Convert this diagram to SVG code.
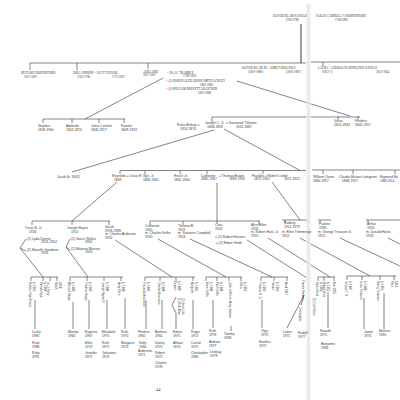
<svg xmlns="http://www.w3.org/2000/svg" width="400" height="400" viewBox="0 0 400 400">
<defs><style>
.cap{font-family:"Liberation Serif",serif;font-size:3px;fill:#333}
.t{font-family:"Liberation Sans",Arial,sans-serif;font-size:3.3px;fill:#3a3a3a}
.r{font-family:"Liberation Sans",Arial,sans-serif;font-size:2.8px;fill:#444}
.p{font-family:"Liberation Serif",serif;font-size:4.5px;fill:#333}
.c{stroke:#333;stroke-width:0.6;fill:none}
.cb{stroke:#222;stroke-width:0.9;fill:none}
</style></defs>
<rect width="400" height="400" fill="#fff"/>
<g id="connectors">
<path class="cb" d="M301 24V63"/>
<path class="c" d="M30 63H306 M311 62H400 M30 63V70 M77 63V70 M148 63V69 M323 62V66"/>
<path class="c" d="M163 78L85 119 M237 81L350 116"/>
<path class="c" d="M43 119H125 M43 119V123 M72 119V123 M99 119V123 M124 119V123"/>
<path class="c" d="M212 117H360 M212 117V122 M338 116V120 M358 116V120"/>
<path class="c" d="M214 130L72 172 M224 129L300 170.5"/>
<path class="c" d="M120 170.5H306 M120 170.5V174 M145 170.5V174 M180 170.5V174 M207 170.5V174 M263 170.5V174"/>
<path class="c" d="M312 170H400 M323 170V174 M353 170V174 M395 170V174"/>
<path class="c" d="M117 182L72 221 M32 221H110 M32 221V225 M72 221V225 M109 221V225"/>
<path class="c" d="M217 183V221 M150 221H260 M150 221V225 M183 221V225 M217 221V224 M259 221V225"/>
<path class="c" d="M272 182L300 220 M282 220H308 M285 220V223 M307 220V223"/>
<path class="c" d="M318 220H331 M320 220V223 M366 220H400 M368 220V223"/>
<path class="c" d="M26 239L20 248L26 251 M70 239L66 247L70 250"/>
<path class="c" d="M20 248L43 277 M66 247L88 277 M115 240L172 277 M158 239L226 277 M190 239L272 277 M247 240L307 278 M268 238L330 277 M300 238L370 276 M340 238L400 266 M388 238L400 244"/>
<path class="c" d="M31 277H58 M31 277V281 M43 277V281 M50 277V281 M57 277V281"/>
<path class="c" d="M70 277H123 M70 277V281 M87 277V281 M104 277V281 M121 277V281"/>
<path class="c" d="M145 277H195 M145 277V281 M160 277V281 M176 277V281 M193 277V281"/>
<path class="c" d="M206 277H242 M206 277V281 M217 277V281 M229 277V281 M241 277V281"/>
<path class="c" d="M261 277H288 M261 277V281 M274 277V281 M287 277V281"/>
<path class="c" d="M318 277H335 M318 277V281 M324 277V281 M334 277V281"/>
<path class="c" d="M347 276H396 M347 276V280 M362 276V280 M380 276V280 M394 276V280"/>
<path class="c" d="M35 300V329 M73 302V329 M89 300V329 M107 300V329 M125 298V329 M146 300V329 M162 300V329 M176 297L172 305L176 313V329 M193 300V329 M213 300V328 M231 326V331 M262 300V328 M304 295L287 328 M304 295L301 305 M328 292V328 M364 298V329 M384 293V329"/>
</g>
<g id="gutter" opacity="0.75"><rect x="306" y="4" width="5" height="396" fill="#efefef"/><line x1="308.5" y1="4" x2="308.5" y2="400" stroke="#dadada" stroke-width="1.2"/></g>

<g id="n-oliver-sr"><text class="cap" x="290" y="17" text-anchor="middle">OLIVER BLAIR-SAVILLE</text><text class="cap" x="292" y="21" text-anchor="middle">1700-1788</text></g>
<g id="n-sarah-carroll"><text class="cap" x="316" y="17">SARAH CARROLL (?) HORTONFORD</text><text class="cap" x="335" y="21">1706-1801</text></g>
<g id="n-richard"><text class="cap" x="21" y="74">RICHARD HORTONFORD</text><text class="cap" x="24" y="77.5">1657-1697</text></g>
<g id="n-joel"><text class="cap" x="73" y="74">JOEL ANDREW = LUCY TAYLOR</text><text class="cap" x="77" y="77.5">1763-1796</text><text class="cap" x="112" y="77.5">1773-1827</text></g>
<g id="n-adelaide-sr"><text class="cap" x="143" y="72.5">ADELAIDE</text><text class="cap" x="143" y="76">1817-1837</text></g>
<g id="n-isaac"><text class="cap" x="167" y="73.5">= ISAAC TRAMBLE</text><text class="cap" x="183" y="77">1798-1850</text></g>
<g id="n-joseph-a"><text class="cap" x="166" y="82">= (2) JOSEPH ALEXANDER SMITH ACKLEY</text><text class="cap" x="200" y="85.5">1801-1883</text></g>
<g id="n-william"><text class="cap" x="166" y="90">= (3) WILLIAM BREVETT GRANTSON</text><text class="cap" x="198" y="93.5">1810-1880</text></g>
<g id="n-oliver-jr"><text class="cap" x="242" y="69">OLIVER BLAIR JR. = EMILY HOLLINGS</text><text class="cap" x="248" y="72.5">(1810-1880)</text><text class="cap" x="286" y="72.5">(1816-1887)</text></g>
<g id="n-laura"><text class="cap" x="318" y="69">LAURA = GEORGE WASHINGTON SAVILLE</text><text class="cap" x="322" y="72.5">(1812-?)</text><text class="cap" x="376" y="72.5">1812-1864</text></g>

<g id="n-stephen"><text class="t" x="38" y="127">Stephen</text><text class="t" x="38" y="130.5">1839-1900</text></g>
<g id="n-adelaide"><text class="t" x="66" y="127">Adelaide</text><text class="t" x="66" y="130.5">1843-1876</text></g>
<g id="n-julius"><text class="t" x="91" y="127">Julius Carsten</text><text class="t" x="91" y="130.5">1846-1917</text></g>
<g id="n-frankie"><text class="t" x="121" y="127">Frankie</text><text class="t" x="121" y="130.5">1849-1933</text></g>
<g id="n-rufus"><text class="t" x="177" y="126">Rufus Bishop =</text><text class="t" x="180" y="129.5">1814-1876</text></g>
<g id="n-joseph-c"><text class="t" x="205" y="124">Joseph C. Jr.</text><text class="t" x="207" y="127.5">1808-1858</text></g>
<g id="n-susannah"><text class="t" x="226" y="124">= Susannah Tillotson</text><text class="t" x="236" y="127.5">1811-1882</text></g>
<g id="n-gaius"><text class="t" x="334" y="122">Gaius</text><text class="t" x="334" y="125.5">1813-1833</text></g>
<g id="n-frederic"><text class="t" x="355" y="122">Frederic</text><text class="t" x="355" y="125.5">1845-1917</text></g>

<g id="n-jacob"><text class="t" x="57" y="177.5">Jacob (b. 1847)</text></g>
<g id="n-reynolds"><text class="t" x="112" y="177">Reynolds = Oscar E. Nye, Jr.</text><text class="t" x="114" y="180.5">1863</text><text class="t" x="143" y="180.5">1866-1941</text></g>
<g id="n-enoch"><text class="t" x="174" y="177">Enoch Jr.</text><text class="t" x="174" y="180.5">1862-1940</text></g>
<g id="n-catherine-sr"><text class="t" x="201" y="176.5">Catherine</text><text class="t" x="201" y="180">1865-1937</text></g>
<g id="n-thomas-brown"><text class="t" x="219" y="176.5">= Thomas Brown</text><text class="t" x="229" y="180">1869-1933</text></g>
<g id="n-franklin"><text class="t" x="252" y="176.5">Franklin = Robert Lunde</text><text class="t" x="254" y="180">1872-1942</text><text class="t" x="284" y="180">1872-1922</text></g>
<g id="n-william-chase"><text class="t" x="313" y="178">William Chase</text><text class="t" x="313" y="181.5">1880-1957</text></g>
<g id="n-claudia"><text class="t" x="339" y="178">Claudia Mason Livingston</text><text class="t" x="342" y="181.5">1868-1957</text></g>
<g id="n-raymond"><text class="t" x="380" y="178" style="font-size:3px">Raymond Mo</text><text class="t" x="380" y="181.5" style="font-size:3px">1868-1914</text></g>

<g id="n-oscar"><text class="t" x="25" y="229">Oscar E. Jr.</text><text class="t" x="29" y="232.5">1926</text><text class="t" x="27" y="239.5">(1) Lydia Dennis</text><text class="t" x="41" y="243">1926-1954</text><text class="t" x="27" y="250.5">(2) Mozelle Goodman</text><text class="t" x="41" y="254">1926</text></g>
<g id="n-joseph-hayes"><text class="t" x="67" y="229">Joseph Hayes</text><text class="t" x="71" y="232.5">1921</text><text class="t" x="71" y="239.5">(1) Vance Walker</text><text class="t" x="85" y="243">1962</text><text class="t" x="71" y="249.5">(2) Marjorie Marrow</text><text class="t" x="85" y="253">1950</text></g>
<g id="n-sarah"><text class="t" x="105" y="228">Sarah</text><text class="t" x="105" y="231.5">1918-1988</text><text class="t" x="105" y="235">m. Charles Anderson</text><text class="t" x="105" y="238.5">1920</text></g>
<g id="n-catherine"><text class="t" x="145" y="227">Catherine</text><text class="t" x="145" y="230.5">1920</text><text class="t" x="145" y="234">m. Charles Griffin</text><text class="t" x="145" y="237.5">1920</text></g>
<g id="n-thomas-b"><text class="t" x="178" y="227">Thomas B.</text><text class="t" x="178" y="230.5">1921</text><text class="t" x="178" y="234">m. Susanne Campbell</text><text class="t" x="178" y="237.5">1924</text></g>
<g id="n-cora"><text class="t" x="215" y="226">Cora</text><text class="t" x="215" y="229.5">1924</text><text class="t" x="215" y="237.5">= (1) Robert Hansen</text><text class="t" x="216" y="243.5">= (2) Edwin Smith</text></g>
<g id="n-alice"><text class="t" x="251" y="226">Alice Ellen</text><text class="t" x="251" y="229.5">1926</text><text class="t" x="251" y="233">m. Robert Hunt, Jr.</text><text class="t" x="251" y="236.5">1925</text></g>
<g id="n-rodney"><text class="t" x="284" y="224">Rodney</text><text class="t" x="284" y="227.5">1921-1979</text><text class="t" x="282" y="233">m. Ellen Tremmings</text><text class="t" x="282" y="236.5">1922</text></g>
<g id="n-pauline"><text class="t" x="319" y="225">Pauline</text><text class="t" x="319" y="228.5">1930</text><text class="t" x="318" y="233">m. George Treasure Jr.</text><text class="t" x="318" y="236.5">1921</text></g>
<g id="n-arthur"><text class="t" x="367" y="225">Arthur</text><text class="t" x="367" y="228.5">1920</text><text class="t" x="366" y="233">m. Donald Harris</text><text class="t" x="366" y="236.5">1926</text></g>

<g id="g-row4">
<text class="r" x="29" y="282" transform="rotate(90 29 282)">Richard Nye Dennis</text>
<text class="r" x="32.5" y="282" transform="rotate(90 32.5 282)">b. 1951</text>
<text class="r" x="40" y="282" transform="rotate(90 40 282)">Pamela Nye</text>
<text class="r" x="43.5" y="282" transform="rotate(90 43.5 282)">b. 1954</text>
<text class="r" x="47" y="282" transform="rotate(90 47 282)">m. J. Perry</text>
<text class="r" x="55" y="282" transform="rotate(90 55 282)">Ralph</text>
<text class="r" x="58.5" y="282" transform="rotate(90 58.5 282)">1958</text>
<text class="r" x="68" y="282" transform="rotate(90 68 282)">Wendell Hayes</text>
<text class="r" x="71.5" y="282" transform="rotate(90 71.5 282)">b. 1940</text>
<text class="r" x="85" y="282" transform="rotate(90 85 282)">Thomas Hayes</text>
<text class="r" x="88.5" y="282" transform="rotate(90 88.5 282)">b. 1943</text>
<text class="r" x="102" y="282" transform="rotate(90 102 282)">Joseph Hayes III</text>
<text class="r" x="105.5" y="282" transform="rotate(90 105.5 282)">b. 1946</text>
<text class="r" x="118" y="282" transform="rotate(90 118 282)">Mary Ellen</text>
<text class="r" x="121.5" y="282" transform="rotate(90 121.5 282)">b. 1949</text>
<text class="r" x="143" y="282" transform="rotate(90 143 282)">Frederick Anderson</text>
<text class="r" x="146.5" y="282" transform="rotate(90 146.5 282)">b. 1942</text>
<text class="r" x="158" y="282" transform="rotate(90 158 282)">Charles Anderson</text>
<text class="r" x="161.5" y="282" transform="rotate(90 161.5 282)">b. 1944</text>
<text class="r" x="174" y="281" transform="rotate(90 174 281)">Edward</text>
<text class="r" x="177.5" y="281" transform="rotate(90 177.5 281)">b. 1948</text>
<text class="r" x="178" y="298" transform="rotate(90 178 298)">(1) Ruth Allen</text>
<text class="r" x="181.5" y="298" transform="rotate(90 181.5 298)">(2) Jean Cole</text>
<text class="r" x="191" y="282" transform="rotate(90 191 282)">Margaret</text>
<text class="r" x="194.5" y="282" transform="rotate(90 194.5 282)">b. 1951</text>
<text class="r" x="206" y="282" transform="rotate(90 206 282)">Anne Griffin</text>
<text class="r" x="209.5" y="282" transform="rotate(90 209.5 282)">b. 1946</text>
<text class="r" x="216" y="282" transform="rotate(90 216 282)">Paul Griffin</text>
<text class="r" x="219.5" y="282" transform="rotate(90 219.5 282)">b. 1948</text>
<text class="r" x="229" y="282" transform="rotate(90 229 282)">John Griffin m. Mary Jackson</text>
<text class="r" x="240" y="282" transform="rotate(90 240 282)">Ellen</text>
<text class="r" x="243.5" y="282" transform="rotate(90 243.5 282)">b. 1952</text>
<text class="r" x="259" y="282" transform="rotate(90 259 282)">Thomas B. Jr.</text>
<text class="r" x="262.5" y="282" transform="rotate(90 262.5 282)">b. 1950</text>
<text class="r" x="272" y="282" transform="rotate(90 272 282)">Susan</text>
<text class="r" x="275.5" y="282" transform="rotate(90 275.5 282)">b. 1953</text>
<text class="r" x="285" y="282" transform="rotate(90 285 282)">Mark 1957</text>
<text class="r" x="302" y="280" transform="rotate(90 302 280)">Francis Hansen</text>
<text class="r" x="299" y="307" transform="rotate(90 299 307)">Christopher</text>
<text class="r" x="313" y="298" transform="rotate(90 313 298)">(1) Carl Olson</text>
<text class="r" x="316" y="282" transform="rotate(90 316 282)">Karen Hunt</text>
<text class="r" x="319.5" y="282" transform="rotate(90 319.5 282)">b. 1950</text>
<text class="r" x="323" y="282" transform="rotate(90 323 282)">Robert Hunt</text>
<text class="r" x="326.5" y="282" transform="rotate(90 326.5 282)">b. 1952</text>
<text class="r" x="333" y="282" transform="rotate(90 333 282)">Ann 1955</text>
<text class="r" x="345" y="281" transform="rotate(90 345 281)">George T. III</text>
<text class="r" x="348.5" y="281" transform="rotate(90 348.5 281)">b. 1947</text>
<text class="r" x="360" y="281" transform="rotate(90 360 281)">Linda Treasure</text>
<text class="r" x="363.5" y="281" transform="rotate(90 363.5 281)">b. 1949</text>
<text class="r" x="377" y="281" transform="rotate(90 377 281)">Nancy Treasure</text>
<text class="r" x="380.5" y="281" transform="rotate(90 380.5 281)">b. 1951</text>
<text class="r" x="391" y="281" transform="rotate(90 391 281)">Paul</text>
<text class="r" x="394.5" y="281" transform="rotate(90 394.5 281)">1955</text>
</g>

<g id="g-row5">
<text class="t" x="32" y="333">Lucky</text><text class="t" x="32" y="336.5">1985</text>
<text class="t" x="32" y="344">Rose</text><text class="t" x="32" y="347.5">1988</text>
<text class="t" x="32" y="354">Ruby</text><text class="t" x="32" y="357.5">1991</text>
<text class="t" x="68" y="333">Marilyn</text><text class="t" x="68" y="336.5">1960</text>
<text class="t" x="85" y="333">Eugenia</text><text class="t" x="85" y="336.5">1967</text>
<text class="t" x="85" y="344">Ellen</text><text class="t" x="85" y="347.5">1973</text>
<text class="t" x="85" y="354">Jennifer</text><text class="t" x="85" y="357.5">1971</text>
<text class="t" x="102" y="333">Elizabeth</text><text class="t" x="102" y="336.5">1970</text>
<text class="t" x="102" y="344">Ruth</text><text class="t" x="102" y="347.5">1971</text>
<text class="t" x="102" y="354">Johannes</text><text class="t" x="102" y="357.5">1974</text>
<text class="t" x="121" y="333">Ruth</text><text class="t" x="121" y="336.5">1970</text>
<text class="t" x="121" y="344">Margaret</text><text class="t" x="121" y="347.5">1973</text>
<text class="t" x="138" y="333">Flinders</text><text class="t" x="138" y="336.5">1960</text>
<text class="t" x="139" y="344">Sally</text><text class="t" x="139" y="347.5">1960</text>
<text class="t" x="138" y="352">Anderson</text><text class="t" x="138" y="355.5">1971</text>
<text class="t" x="155" y="333">Barbara</text><text class="t" x="155" y="336.5">1960</text>
<text class="t" x="155" y="344">Danny</text><text class="t" x="155" y="347.5">1970</text>
<text class="t" x="155" y="354">Robert</text><text class="t" x="155" y="357.5">1975</text>
<text class="t" x="155" y="364">Charles</text><text class="t" x="155" y="367.5">1978</text>
<text class="t" x="173" y="333">Edwin</text><text class="t" x="173" y="336.5">1975</text>
<text class="t" x="173" y="344">Allison</text><text class="t" x="173" y="347.5">1974</text>
<text class="t" x="191" y="333">Roger</text><text class="t" x="191" y="336.5">1972</text>
<text class="t" x="191" y="344">Carroll</text><text class="t" x="191" y="347.5">1975</text>
<text class="t" x="191" y="354">Christopher</text><text class="t" x="191" y="357.5">1980</text>
<text class="t" x="209" y="332">Ruth</text><text class="t" x="209" y="335.5">1976</text>
<text class="t" x="209" y="343">Andrew</text><text class="t" x="209" y="346.5">1977</text>
<text class="t" x="210" y="353">Lindsay</text><text class="t" x="210" y="356.5">1979</text>
<text class="t" x="224" y="335">Tammy</text><text class="t" x="224" y="338.5">1968</text>
<text class="t" x="261" y="332">Olga</text><text class="t" x="261" y="335.5">1972</text>
<text class="t" x="259" y="343">Heather</text><text class="t" x="259" y="346.5">1975</text>
<text class="t" x="283" y="333">Lakes</text><text class="t" x="283" y="336.5">1971</text>
<text class="t" x="298" y="334">Rudolf</text><text class="t" x="298" y="337.5">1977</text>
<text class="t" x="320" y="332">Ronald</text><text class="t" x="320" y="335.5">1971</text>
<text class="t" x="321" y="345">Benjamin</text><text class="t" x="321" y="348.5">1966</text>
<text class="t" x="364" y="333">Jamie</text><text class="t" x="364" y="336.5">1970</text>
<text class="t" x="379" y="332">Melissa</text><text class="t" x="379" y="335.5">1965</text>
</g>
<text class="p" x="156" y="391">44</text>
</svg>
